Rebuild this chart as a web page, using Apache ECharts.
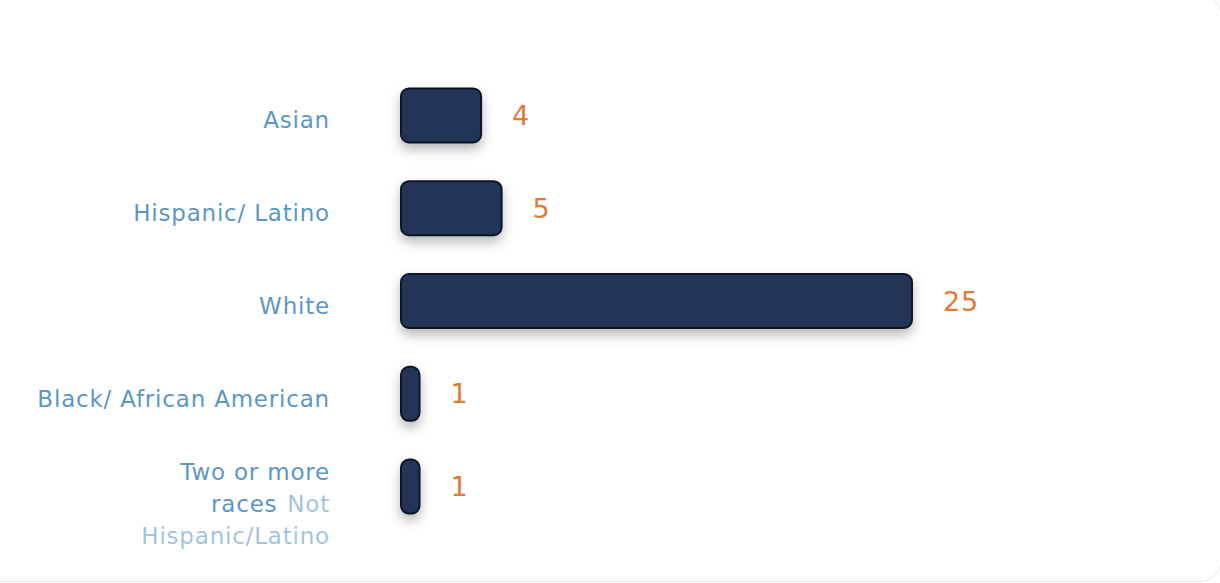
<!DOCTYPE html>
<html>
<head>
<meta charset="utf-8">
<script src="https://cdn.jsdelivr.net/npm/echarts@6/dist/echarts.min.js"></script>
<style>
html,body{margin:0;padding:0;background:#fff;overflow:hidden;}
#card{position:absolute;left:-20px;top:-6px;width:1242px;height:588px;border:1px solid #e1e7ee;border-radius:22px;box-sizing:border-box;}
#chart{position:absolute;left:0;top:0;width:1220px;height:583px;}
#chart svg text{letter-spacing:0.8px;}
</style>
</head>
<body>
<div id="card"></div>
<div id="chart"></div>
<script>
const categories = ["Asian", "Hispanic/ Latino", "White", "Black/ African American", "Two or more races Not Hispanic/Latino"];
const values = [4, 5, 25, 1, 1];

const chart = echarts.init(document.getElementById('chart'), null, { renderer: 'svg' });
const font = "'DejaVu Sans', 'Noto Sans', sans-serif";
chart.setOption({
  animation: false,
  grid: { left: 400, right: 307, top: 69, bottom: 50, containLabel: false },
  xAxis: { type: 'value', min: 0, max: 25, show: false },
  yAxis: {
    type: 'category', data: categories, inverse: true,
    axisLine: { show: false }, axisTick: { show: false }, splitLine: { show: false },
    axisLabel: {
      margin: 70, fontFamily: font, fontSize: 23, color: '#5d97c3',
      formatter: function (v) {
        if (v.indexOf('Two or more') === 0) {
          return '{e| }\n{a|Two or more}\n{a|races}{s| }{b|Not}\n{b|Hispanic/Latino}';
        }
        return '{c|' + v + '}';
      },
      rich: {
        e: { fontSize: 10, lineHeight: 34 },
        s: { fontFamily: font, fontSize: 23, lineHeight: 32, padding: [0, 5, 0, 0] },
        a: { fontFamily: font, fontSize: 23, color: '#5d97c3', lineHeight: 32 },
        b: { fontFamily: font, fontSize: 23, color: '#a3c4de', lineHeight: 32 },
        c: { fontFamily: font, fontSize: 23, color: '#5d97c3', lineHeight: 32, padding: [10, 0, 0, 0] }
      }
    }
  },
  series: [{
    type: 'bar', data: values, barWidth: 56,
    itemStyle: {
      color: '#213557', borderColor: '#0b1628', borderWidth: 2, borderRadius: 8,
      shadowBlur: 12, shadowOffsetY: 6, shadowOffsetX: 0, shadowColor: 'rgba(0,0,0,0.28)'
    },
    label: {
      show: true, position: 'right', distance: 30,
      fontFamily: font, fontSize: 27, color: '#e07a37'
    }
  }]
});
</script>
</body>
</html>
